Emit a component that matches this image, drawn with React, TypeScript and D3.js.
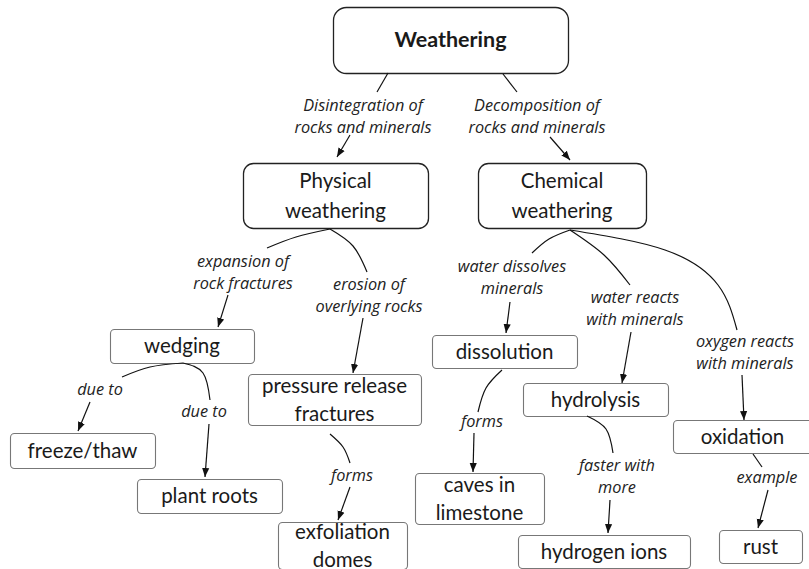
import { useEffect } from 'react';
import * as d3 from 'd3';

// concept map text
const nodeIds = ['weathering', 'physical', 'chemical', 'wedging', 'pressure', 'freeze', 'roots', 'exfol',
    'dissolution', 'hydrolysis', 'oxidation', 'caves', 'hydrogen', 'rust'];
const nodeLines: string[][] = [
    ['Weathering'], ['Physical', 'weathering'], ['Chemical', 'weathering'], ['wedging'],
    ['pressure release', 'fractures'], ['freeze/thaw'], ['plant roots'], ['exfoliation', 'domes'],
    ['dissolution'], ['hydrolysis'], ['oxidation'], ['caves in', 'limestone'], ['hydrogen ions'], ['rust'],
];
const linkFrom = ['weathering', 'weathering', 'physical', 'physical', 'wedging', 'wedging', 'pressure',
    'chemical', 'chemical', 'chemical', 'dissolution', 'hydrolysis', 'oxidation'];
const linkTo = ['physical', 'chemical', 'wedging', 'pressure', 'freeze', 'roots', 'exfol',
    'dissolution', 'hydrolysis', 'oxidation', 'caves', 'hydrogen', 'rust'];
const linkLabels: string[][] = [
    ['Disintegration of', 'rocks and minerals'], ['Decomposition of', 'rocks and minerals'],
    ['expansion of', 'rock fractures'], ['erosion of', 'overlying rocks'],
    ['due to'], ['due to'], ['forms'],
    ['water dissolves', 'minerals'], ['water reacts', 'with minerals'], ['oxygen reacts', 'with minerals'],
    ['forms'], ['faster with', 'more'], ['example'],
];

// layout: box [x0, y0, x1, y1, rx]
const boxes: Record<string, number[]> = {
    weathering: [333, 7, 568, 73, 13],
    physical: [243, 163, 428, 228, 10],
    chemical: [478, 163, 646, 228, 10],
    wedging: [110, 329, 254, 363, 4],
    pressure: [248, 374, 421, 425, 4],
    freeze: [10, 433, 155, 468, 4],
    roots: [137, 479, 282, 513, 4],
    exfol: [278, 522, 407, 569, 4],
    dissolution: [432, 335, 577, 368, 4],
    hydrolysis: [523, 383, 668, 416, 4],
    oxidation: [673, 420, 812, 453, 4],
    caves: [415, 473, 544, 524, 4],
    hydrogen: [518, 535, 690, 568, 4],
    rust: [719, 530, 802, 563, 4],
};
// curve from source box to label, then arrow from label to target
const upper: number[][][] = [
    [[388, 73], [377, 92]],
    [[503, 74], [517, 92]],
    [[330, 229], [296, 237], [267, 248]],
    [[330, 229], [353, 246], [367, 272]],
    [[183, 363], [150, 367], [122, 377]],
    [[183, 363], [203, 373], [210, 400]],
    [[330, 434], [343, 447], [350, 463]],
    [[570, 230], [549, 239], [532, 253]],
    [[570, 230], [604, 255], [630, 285]],
    [[570, 230], [665, 250], [718, 285], [737, 330]],
    [[502, 370], [486, 388], [478, 412]],
    [[587, 416], [606, 429], [613, 453]],
    [[753, 454], [762, 467]],
];
const arrows: number[][][] = [
    [[350, 135], [337, 157]],
    [[550, 137], [570, 160]],
    [[228, 295], [218, 327]],
    [[363, 318], [353, 373]],
    [[90, 402], [78, 431]],
    [[209, 424], [205, 477]],
    [[350, 487], [338, 520]],
    [[510, 302], [506, 333]],
    [[631, 332], [622, 383]],
    [[742, 375], [744, 420]],
    [[474, 433], [473, 472]],
    [[610, 500], [608, 533]],
    [[768, 490], [758, 528]],
];
const labelPos: number[][] = [
    [363, 106], [537, 106], [243, 262], [369, 285], [100, 390], [204, 412], [352, 476],
    [512, 267], [635, 298], [745, 342], [482, 422], [617, 466], [767, 478],
];

const FONT = 'Lato, "Open Sans", sans-serif';
const LABEL_FONT = '"Open Sans", Lato, sans-serif';
const line = d3.line<number[]>().x(d => d[0]).y(d => d[1]).curve(d3.curveNatural);

export default function App() {
    useEffect(() => { document.body.style.margin = '0'; }, []);

    return (
        <svg width={809} height={569} style={{ display: 'block', background: '#fff' }}>
            <defs>
                <marker id="ah" viewBox="0 0 10 10" refX={10} refY={5} markerWidth={9} markerHeight={9}
                    markerUnits="userSpaceOnUse" orient="auto">
                    <path d="M0,1 L10,5 L0,9 Z" fill="#111" />
                </marker>
            </defs>
            {nodeIds.map((id, i) => {
                const [x0, y0, x1, y1, rx] = boxes[id];
                const lines = nodeLines[i];
                const big = id === 'weathering';
                const top = i < 3;
                const cx = (x0 + x1) / 2;
                const cy = (y0 + y1) / 2;
                const lh = top ? 30 : 28;
                return (
                    <g key={id}>
                        <rect x={x0 + 0.5} y={y0 + 0.5} width={x1 - x0} height={y1 - y0} rx={rx}
                            fill="#fff" stroke={top ? '#222' : '#777'} strokeWidth={top ? 1.3 : 1.1} />
                        {lines.map((t, j) => (
                            <text key={j} x={cx} y={cy + (j - (lines.length - 1) / 2) * lh + 7}
                                textAnchor="middle" fontFamily={FONT} fontSize={big ? 21.5 : 20.5}
                                fontWeight={big ? 700 : 400} fill="#1a1a1a">{t}</text>
                        ))}
                    </g>
                );
            })}
            {linkFrom.map((f, i) => (
                <g key={`l${i}`}>
                    <path d={line(upper[i]) ?? ''} fill="none" stroke="#111" strokeWidth={1.2} />
                    <path d={line(arrows[i]) ?? ''} fill="none" stroke="#111" strokeWidth={1.2} markerEnd="url(#ah)" />
                    {linkLabels[i].map((t, j) => (
                        <text key={j} x={labelPos[i][0]} y={labelPos[i][1] + j * 22 + 5} textAnchor="middle"
                            fontFamily={LABEL_FONT} fontSize={16.3} fontStyle="italic" fill="#222">{t}</text>
                    ))}
                </g>
            ))}
        </svg>
    );
}
